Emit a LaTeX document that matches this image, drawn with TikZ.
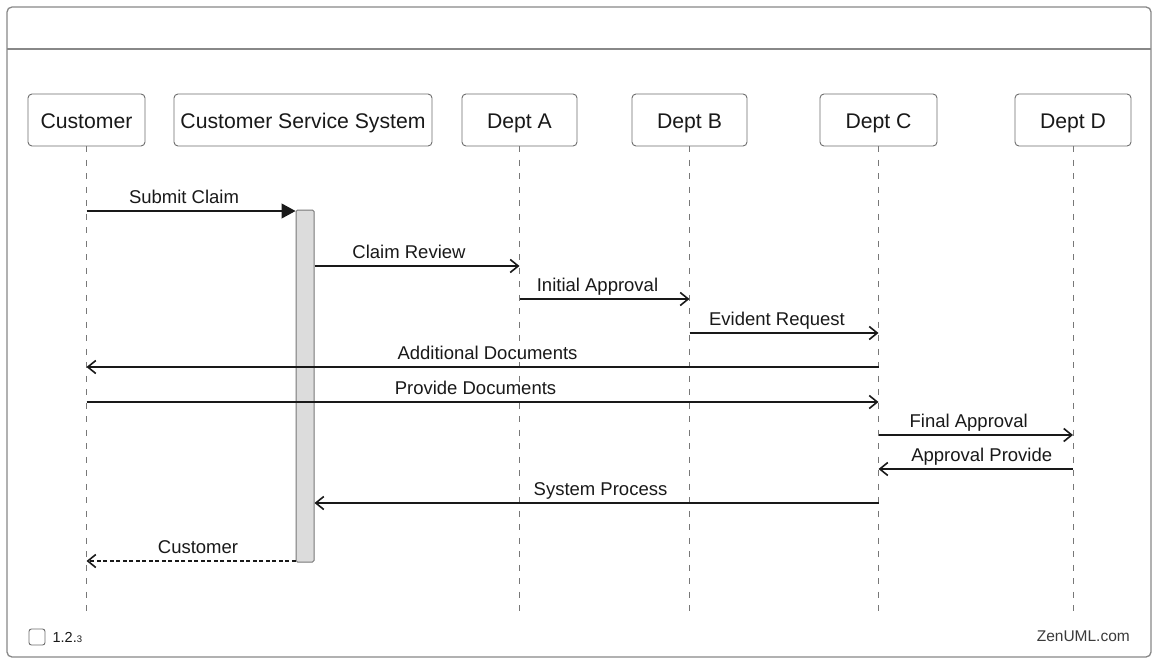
\documentclass[tikz,border=0pt]{standalone}
\usepackage{fontspec}
\setmainfont{Liberation Sans}
\usepackage{tikz}
\usetikzlibrary{arrows.meta,positioning,calc}
\definecolor{framegray}{RGB}{136,136,136}
\definecolor{boxgray}{RGB}{110,110,110}
\definecolor{linegray}{RGB}{120,120,120}
\definecolor{barfill}{RGB}{220,220,220}
\definecolor{inkdark}{RGB}{25,25,25}

\begin{document}
\begin{tikzpicture}[
x=1pt,y=-1pt,
actor/.style={draw=boxgray,rounded corners=4pt,line width=0.9pt,minimum height=52pt,text=inkdark,font=\fontsize{21.2}{24}\selectfont,inner sep=0pt,text height=18pt,text depth=2pt},
lifeline/.style={draw=linegray,line width=0.9pt,dash pattern=on 6pt off 7.5pt},
actbar/.style={draw=linegray,fill=barfill,rounded corners=1.5pt,line width=1pt,minimum width=18pt,minimum height=352pt,inner sep=0pt},
msg/.style={draw=inkdark,line width=1.2pt,-{Straight Barb[length=8pt,width=13pt,line width=1.6pt]}},
call/.style={draw=inkdark,line width=1.2pt,-{Triangle[length=14pt,width=15pt]}},
reply/.style={msg,dash pattern=on 4pt off 2.5pt},
lbl/.style={text=inkdark,font=\fontsize{18.5}{22}\selectfont,inner sep=0pt,text depth=0pt,above=6.5pt}
]
\useasboundingbox (0,0) rectangle (1158,664);
\fill[white] (0,0) rectangle (1158,664);
% frame and title bar
\draw[framegray,line width=1.3pt,rounded corners=5pt] (7,7) rectangle (1151,657);
\draw[framegray,line width=1.3pt] (7,49) -- (1151,49);

% participants
\node[actor,minimum width=117pt] (cust) at (86.5,120) {Customer};
\node[actor,minimum width=258pt] (css) at (303,120) {Customer Service System};
\node[actor,minimum width=115pt] (depta) at (519.5,120) {Dept A};
\node[actor,minimum width=115pt] (deptb) at (689.5,120) {Dept B};
\node[actor,minimum width=117pt] (deptc) at (878.5,120) {Dept C};
\node[actor,minimum width=116pt] (deptd) at (1073,120) {Dept D};

% lifelines
\coordinate (bottom) at (0,613);
\draw[lifeline] (cust.south) -- (cust |- bottom);
\draw[lifeline] (depta.south) -- (depta |- bottom);
\draw[lifeline] (deptb.south) -- (deptb |- bottom);
\draw[lifeline] (deptc.south) -- (deptc |- bottom);
\draw[lifeline] (deptd.south) -- (deptd |- bottom);

% activation of the service system
\node[actbar] (bar) at (305,386) {};

% message rows
\coordinate (m1) at (0,211);
\coordinate (m2) at (0,266);
\coordinate (m3) at (0,299);
\coordinate (m4) at (0,333);
\coordinate (m5) at (0,367);
\coordinate (m6) at (0,402);
\coordinate (m7) at (0,435);
\coordinate (m8) at (0,469);
\coordinate (m9) at (0,503);
\coordinate (m10) at (0,561);

\draw[call] (cust |- m1) -- node[lbl,xshift=-7pt]{Submit Claim} (bar.west |- m1);
\draw[msg] (bar.east |- m2) -- node[lbl,xshift=-8pt]{Claim Review} (depta |- m2);
\draw[msg] (depta |- m3) -- node[lbl,xshift=-7pt]{Initial Approval} (deptb |- m3);
\draw[msg] (deptb |- m4) -- node[lbl,xshift=-7pt]{Evident Request} (deptc |- m4);
\draw[msg] (deptc |- m5) -- node[lbl,xshift=5pt]{Additional Documents} (cust |- m5);
\draw[msg] (cust |- m6) -- node[lbl,xshift=-7pt]{Provide Documents} (deptc |- m6);
\draw[msg] (deptc |- m7) -- node[lbl,xshift=-7pt]{Final Approval} (deptd |- m7);
\draw[msg] (deptd |- m8) -- node[lbl,xshift=6pt]{Approval Provide} (deptc |- m8);
\draw[msg] (deptc |- m9) -- node[lbl,xshift=4pt]{System Process} (bar.east |- m9);
\draw[reply] (bar.west |- m10) -- node[lbl,xshift=7pt]{Customer} (cust |- m10);

% footer
\node[draw=boxgray,line width=0.9pt,rounded corners=2.5pt,minimum size=16pt,inner sep=0pt] (check) at (37,637) {};
\node[right=7pt of check,inner sep=0pt,text=inkdark,font=\fontsize{14.5}{16}\selectfont] (version) {1.2.{\fontsize{9.5}{11}\selectfont 3}};
\node[anchor=east,inner sep=0pt,text=inkdark!85,font=\fontsize{15.5}{18}\selectfont] (brand) at (1130,636) {ZenUML.com};
\end{tikzpicture}
\end{document}
